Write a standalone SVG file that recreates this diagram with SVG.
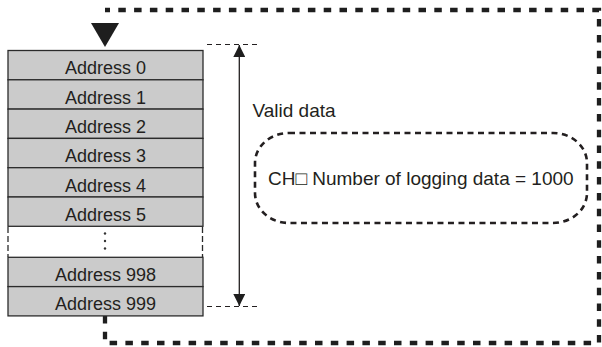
<svg xmlns="http://www.w3.org/2000/svg" width="602" height="347" viewBox="0 0 602 347">
<style>
.row{fill:#cbcbcb;stroke:#2b2b2b;stroke-width:1.3}
.t{font-family:"Liberation Sans","Noto Sans CJK JP","DejaVu Sans",Arial,sans-serif;font-size:18px;fill:#231f20}
.tc{text-anchor:middle}
.big{font-size:19px}
.loop{fill:none;stroke:#1e1e1e;stroke-width:4.3;stroke-dasharray:7.5 8.3}
.thin{fill:none;stroke:#231f20;stroke-width:1.1;stroke-dasharray:5 4}
.side{fill:none;stroke:#2b2b2b;stroke-width:1.3;stroke-dasharray:6 3}
.bub{fill:none;stroke:#231f20;stroke-width:2.6;stroke-dasharray:6 4.5}
</style>
<defs>
<marker id="ah" viewBox="0 0 12 12" refX="12" refY="6" markerWidth="12" markerHeight="12" markerUnits="userSpaceOnUse" orient="auto">
<path d="M0,0 L12,6 L0,12 Z" fill="#1e1e1e"/>
</marker>
</defs>
<g id="connectors">
<path class="loop" d="M105,316 V343 H599 V10 H105"/>
<path d="M91,23 H119 L105,47 Z" fill="#1e1e1e"/>
<line class="thin" x1="207" y1="44.5" x2="257" y2="44.5"/>
<line class="thin" x1="207" y1="306.5" x2="257" y2="306.5"/>
<line x1="239.3" y1="175" x2="239.3" y2="45" stroke="#231f20" stroke-width="1.3" marker-end="url(#ah)"/>
<line x1="239.3" y1="175" x2="239.3" y2="306" stroke="#231f20" stroke-width="1.3" marker-end="url(#ah)"/>
</g>
<g id="addr0"><rect class="row" x="8" y="50.5" width="195" height="29.3"/><text class="t tc" x="105.5" y="74.3">Address 0</text></g>
<g id="addr1"><rect class="row" x="8" y="79.8" width="195" height="29.3"/><text class="t tc" x="105.5" y="103.6">Address 1</text></g>
<g id="addr2"><rect class="row" x="8" y="109.1" width="195" height="29.3"/><text class="t tc" x="105.5" y="132.9">Address 2</text></g>
<g id="addr3"><rect class="row" x="8" y="138.4" width="195" height="29.3"/><text class="t tc" x="105.5" y="162.2">Address 3</text></g>
<g id="addr4"><rect class="row" x="8" y="167.7" width="195" height="29.3"/><text class="t tc" x="105.5" y="191.5">Address 4</text></g>
<g id="addr5"><rect class="row" x="8" y="197" width="195" height="29.3"/><text class="t tc" x="105.5" y="220.8">Address 5</text></g>
<g id="gap">
<line class="side" x1="8" y1="227" x2="8" y2="257"/>
<line class="side" x1="202.5" y1="227" x2="202.5" y2="257"/>
<circle cx="105" cy="233.5" r="1.2" fill="#333"/>
<circle cx="105" cy="241" r="1.2" fill="#333"/>
<circle cx="105" cy="248.5" r="1.2" fill="#333"/>
</g>
<g id="addr998"><rect class="row" x="8" y="257.3" width="195" height="29.3"/><text class="t tc" x="105.5" y="281.1">Address 998</text></g>
<g id="addr999"><rect class="row" x="8" y="286.6" width="195" height="29.3"/><text class="t tc" x="105.5" y="310.4">Address 999</text></g>
<g id="valid"><text class="t big" x="252.5" y="117.3">Valid data</text></g>
<g id="count">
<rect class="bub" x="255" y="133" width="332" height="90" rx="34" ry="30"/>
<text class="t big" x="268" y="185">CH□ Number of logging data = 1000</text>
</g>
</svg>
